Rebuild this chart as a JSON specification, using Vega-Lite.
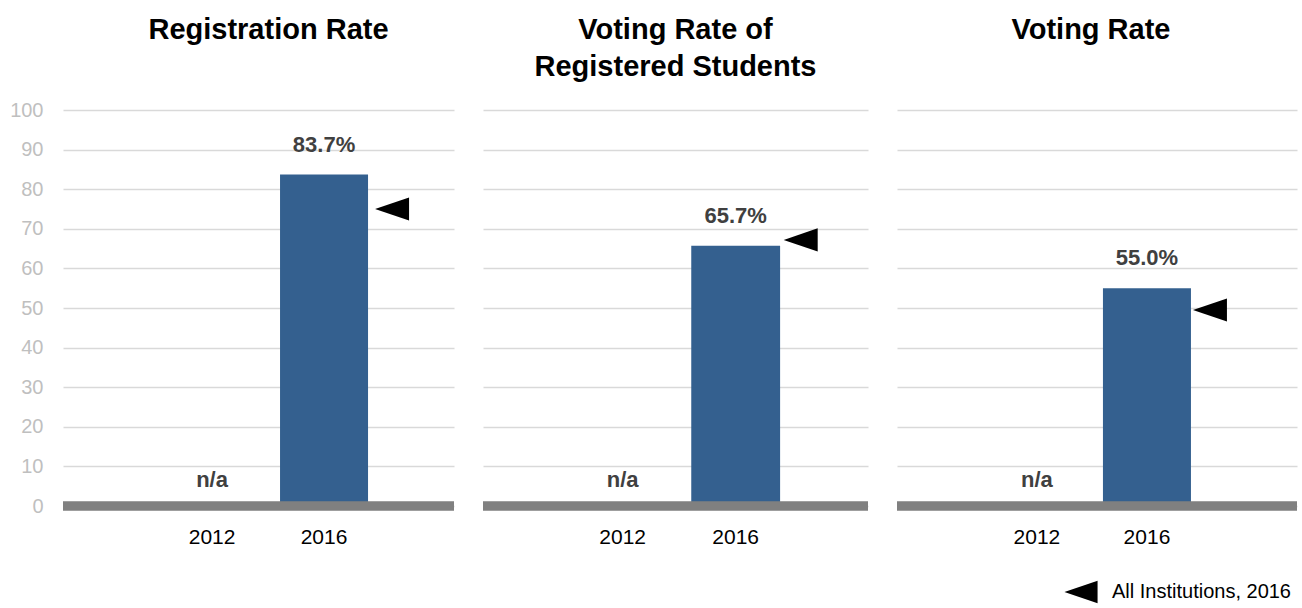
{
  "$schema": "https://vega.github.io/schema/vega-lite/v6.json",
  "background": "white",
  "padding": {"left": 9, "top": 16, "right": 1, "bottom": 0},
  "config": {
    "font": "Liberation Sans",
    "view": {"stroke": null},
    "title": {"fontSize": 29, "fontWeight": "bold", "color": "black", "font": "Liberation Sans", "lineHeight": 37, "offset": 28, "anchor": "middle", "frame": "group"},
    "axisY": {"labelOverlap": false, "tickCount": 11, "grid": true, "gridColor": "#d9d9d9", "gridWidth": 1.5, "domain": false, "ticks": false, "title": null, "labelColor": "#bfbfbf", "labelFontSize": 20, "labelPadding": 20, "labelFont": "Liberation Sans"},
    "axisX": {"title": null, "domain": false, "ticks": false, "labelAngle": 0, "labelFontSize": 21, "labelColor": "black", "labelPadding": 20, "labelFont": "Liberation Sans"}
  },
  "data": {"values": [
    {"panel": "Registration Rate", "year": "2012", "value": null, "label": "n/a", "allInst": null},
    {"panel": "Registration Rate", "year": "2016", "value": 83.7, "label": "83.7%", "allInst": 75.0},
    {"panel": "Voting Rate of Registered Students", "year": "2012", "value": null, "label": "n/a", "allInst": null},
    {"panel": "Voting Rate of Registered Students", "year": "2016", "value": 65.7, "label": "65.7%", "allInst": 67.2},
    {"panel": "Voting Rate", "year": "2012", "value": null, "label": "n/a", "allInst": null},
    {"panel": "Voting Rate", "year": "2016", "value": 55.0, "label": "55.0%", "allInst": 49.5}
  ]},
  "spacing": 19,
  "resolve": {"scale": {"x": "independent", "y": "independent", "shape": "shared"}},
  "hconcat": [
    {
      "width": 391, "height": 396,
      "title": {"text": ["Registration Rate", " "], "dx": 10, "dy": 10},
      "transform": [{"filter": "datum.panel == 'Registration Rate'"}],
      "encoding": {
        "x": {"field": "year", "type": "nominal", "scale": {"domain": ["2012", "2016"], "paddingInner": 0.214, "paddingOuter": 0.853, "align": 0.55}}
      },
      "layer": [
        {
          "mark": {"type": "bar", "color": "#34608f"},
          "encoding": {
            "y": {"field": "value", "type": "quantitative", "scale": {"domain": [0, 100], "nice": false}, "axis": {"values": [0, 10, 20, 30, 40, 50, 60, 70, 80, 90, 100], "tickCount": 11}}
          }
        },
        {
          "transform": [{"filter": "datum.value != null"}],
          "mark": {"type": "text", "baseline": "bottom", "dy": -18, "fontSize": 22, "fontWeight": "bold", "color": "#404040"},
          "encoding": {"y": {"field": "value", "type": "quantitative"}, "text": {"field": "label"}}
        },
        {
          "transform": [{"filter": "datum.value == null"}],
          "mark": {"type": "text", "baseline": "bottom", "dy": -14, "fontSize": 22, "fontWeight": "bold", "color": "#404040"},
          "encoding": {"y": {"datum": 0}, "text": {"field": "label"}}
        },
        {
          "mark": {"type": "rule", "color": "#808080", "strokeWidth": 9},
          "encoding": {"x": null, "y": {"datum": 0}}
        },
        {
          "transform": [{"filter": "datum.allInst != null"}],
          "mark": {"type": "point", "filled": true, "color": "black", "opacity": 1, "size": 1156, "xOffset": 68},
          "encoding": {
            "y": {"field": "allInst", "type": "quantitative"},
            "shape": {
              "datum": "All Institutions, 2016", "type": "nominal",
              "scale": {"range": ["M-1,0L1,-0.68L1,0.68Z"]},
              "legend": {"title": null, "orient": "none", "legendX": 1001, "legendY": 465, "labelFontSize": 20, "labelColor": "black", "labelFont": "Liberation Sans", "labelLimit": 400, "symbolSize": 1100, "symbolFillColor": "black", "symbolStrokeColor": "black", "symbolStrokeWidth": 0, "padding": 0, "labelOffset": 14}
            }
          }
        }
      ]
    },
    {
      "width": 385, "height": 396,
      "title": {"text": ["Voting Rate of", "Registered Students"]},
      "transform": [{"filter": "datum.panel == 'Voting Rate of Registered Students'"}],
      "encoding": {
        "x": {"field": "year", "type": "nominal", "scale": {"domain": ["2012", "2016"], "paddingInner": 0.214, "paddingOuter": 0.81, "align": 0.52}}
      },
      "layer": [
        {
          "mark": {"type": "bar", "color": "#34608f"},
          "encoding": {
            "y": {"field": "value", "type": "quantitative", "scale": {"domain": [0, 100], "nice": false}, "axis": {"values": [0, 10, 20, 30, 40, 50, 60, 70, 80, 90, 100], "tickCount": 11, "labels": false}}
          }
        },
        {
          "transform": [{"filter": "datum.value != null"}],
          "mark": {"type": "text", "baseline": "bottom", "dy": -18, "fontSize": 22, "fontWeight": "bold", "color": "#404040"},
          "encoding": {"y": {"field": "value", "type": "quantitative"}, "text": {"field": "label"}}
        },
        {
          "transform": [{"filter": "datum.value == null"}],
          "mark": {"type": "text", "baseline": "bottom", "dy": -14, "fontSize": 22, "fontWeight": "bold", "color": "#404040"},
          "encoding": {"y": {"datum": 0}, "text": {"field": "label"}}
        },
        {
          "mark": {"type": "rule", "color": "#808080", "strokeWidth": 9},
          "encoding": {"x": null, "y": {"datum": 0}}
        },
        {
          "transform": [{"filter": "datum.allInst != null"}],
          "mark": {"type": "point", "filled": true, "color": "black", "opacity": 1, "size": 1156, "xOffset": 65},
          "encoding": {
            "y": {"field": "allInst", "type": "quantitative"},
            "shape": {"datum": "All Institutions, 2016", "type": "nominal"}
          }
        }
      ]
    },
    {
      "width": 400, "height": 396,
      "title": {"text": ["Voting Rate", " "], "dx": -6},
      "transform": [{"filter": "datum.panel == 'Voting Rate'"}],
      "encoding": {
        "x": {"field": "year", "type": "nominal", "scale": {"domain": ["2012", "2016"], "paddingInner": 0.2, "paddingOuter": 0.918, "align": 0.475}}
      },
      "layer": [
        {
          "mark": {"type": "bar", "color": "#34608f"},
          "encoding": {
            "y": {"field": "value", "type": "quantitative", "scale": {"domain": [0, 100], "nice": false}, "axis": {"values": [0, 10, 20, 30, 40, 50, 60, 70, 80, 90, 100], "tickCount": 11, "labels": false}}
          }
        },
        {
          "transform": [{"filter": "datum.value != null"}],
          "mark": {"type": "text", "baseline": "bottom", "dy": -18, "fontSize": 22, "fontWeight": "bold", "color": "#404040"},
          "encoding": {"y": {"field": "value", "type": "quantitative"}, "text": {"field": "label"}}
        },
        {
          "transform": [{"filter": "datum.value == null"}],
          "mark": {"type": "text", "baseline": "bottom", "dy": -14, "fontSize": 22, "fontWeight": "bold", "color": "#404040"},
          "encoding": {"y": {"datum": 0}, "text": {"field": "label"}}
        },
        {
          "mark": {"type": "rule", "color": "#808080", "strokeWidth": 9},
          "encoding": {"x": null, "y": {"datum": 0}}
        },
        {
          "transform": [{"filter": "datum.allInst != null"}],
          "mark": {"type": "point", "filled": true, "color": "black", "opacity": 1, "size": 1156, "xOffset": 63},
          "encoding": {
            "y": {"field": "allInst", "type": "quantitative"},
            "shape": {"datum": "All Institutions, 2016", "type": "nominal"}
          }
        }
      ]
    }
  ]
}
